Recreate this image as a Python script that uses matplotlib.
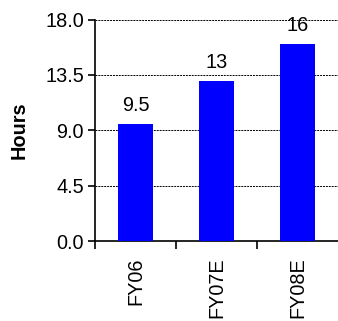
import matplotlib
matplotlib.use("Agg")
import matplotlib.pyplot as plt
from matplotlib.ticker import FixedLocator

plt.rcParams['font.family'] = ['Liberation Sans', 'DejaVu Sans']

categories = ["FY06", "FY07E", "FY08E"]
hours = [9.5, 13, 16]
value_labels = ["9.5", "13", "16"]
yticks = [0.0, 4.5, 9.0, 13.5, 18.0]

FS = 14.3

fig = plt.figure(figsize=(3.38, 3.21), dpi=100)
ax = fig.add_axes([0.281, 0.249, 0.719, 0.690])

x = list(range(len(categories)))
ax.bar(x, hours, width=0.43, color="#0000FF", zorder=3)

for xi, v, lab in zip(x, hours, value_labels):
    ax.annotate(lab, (xi, v), xytext=(0, 9), textcoords="offset pixels",
                ha="center", va="bottom", fontsize=FS, color="black", zorder=4)

ax.set_xlim(-0.5, 2.5)
ax.set_ylim(0, 18)
ax.set_yticks(yticks)
ax.set_yticklabels([f"{t:.1f}" for t in yticks], fontsize=FS)
ax.yaxis.grid(True, color="black", linestyle=(0, (2, 1)), linewidth=0.7, zorder=0)
ax.tick_params(axis="y", direction="out", length=5, width=1.2, pad=3)

ax.set_xticks(x)
ax.set_xticklabels(categories, rotation=90, fontsize=FS)
ax.tick_params(axis="x", which="major", length=0, pad=12)
ax.xaxis.set_minor_locator(FixedLocator([-0.5, 0.5, 1.5]))
ax.tick_params(axis="x", which="minor", direction="out", length=6, width=1.2)

for side in ("top", "right"):
    ax.spines[side].set_visible(False)
for side in ("left", "bottom"):
    ax.spines[side].set_linewidth(1.2)

ax.set_ylabel("Hours", fontsize=FS, fontweight="bold", labelpad=12)

fig.savefig("out.png", dpi=100)
